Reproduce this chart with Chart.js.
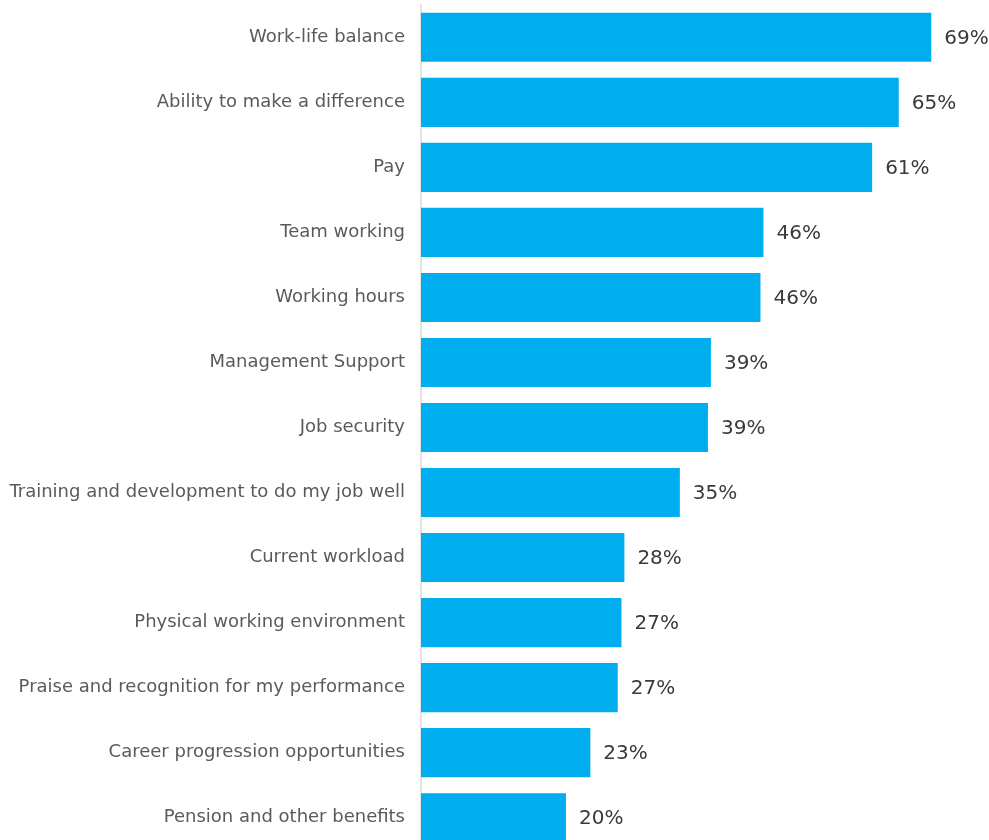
<!DOCTYPE html>
<html><head><meta charset="utf-8">
<script src="https://cdn.jsdelivr.net/npm/chart.js@4"></script>
<style>html,body{margin:0;padding:0;background:#fff;overflow:hidden;width:989px;height:840px}#wrap{position:absolute;left:0;top:-22.3px;width:989px;height:899px}</style>
</head><body><div id="wrap"><canvas id="c"></canvas></div>
<script>
const categories = ["Work-life balance","Ability to make a difference","Pay","Team working","Working hours","Management Support","Job security","Training and development to do my job well","Current workload","Physical working environment","Praise and recognition for my performance","Career progression opportunities","Pension and other benefits"];
const values = [69.0,64.6,61.0,46.3,45.9,39.2,38.8,35.0,27.5,27.1,26.6,22.9,19.6];
const valueLabels = ["69%","65%","61%","46%","46%","39%","39%","35%","28%","27%","27%","23%","20%"];

const labelPlugin = {
  id:'vl',
  afterDatasetsDraw(chart){
    const ctx=chart.ctx; const meta=chart.getDatasetMeta(0);
    ctx.save(); ctx.font='20px "DejaVu Sans"'; ctx.fillStyle='#3a3a3a'; ctx.textBaseline='middle'; ctx.textAlign='left';
    meta.data.forEach((b,i)=>{ ctx.fillText(valueLabels[i], b.x+13, b.y+1); });
    ctx.restore();
  }
};
new Chart(document.getElementById('c'),{
  type:'bar',
  data:{labels:categories,datasets:[{data:values,backgroundColor:'#00aeef',borderWidth:0,barPercentage:0.755,categoryPercentage:1}]},
  options:{
    indexAxis:'y',responsive:true,maintainAspectRatio:false,animation:false,
    layout:{autoPadding:false,padding:0},
    plugins:{legend:{display:false},tooltip:{enabled:false}},
    scales:{
      x:{display:false,min:0,max:76.8},
      y:{
        afterFit(s){s.width=421;},
        grid:{display:false,drawTicks:false},
        border:{display:true,color:'#e4e4e4',width:2},
        ticks:{color:'#5a5a5a',font:{family:'"DejaVu Sans"',size:18},padding:16,autoSkip:false}
      }
    }
  },
  plugins:[labelPlugin]
});
</script></body></html>
